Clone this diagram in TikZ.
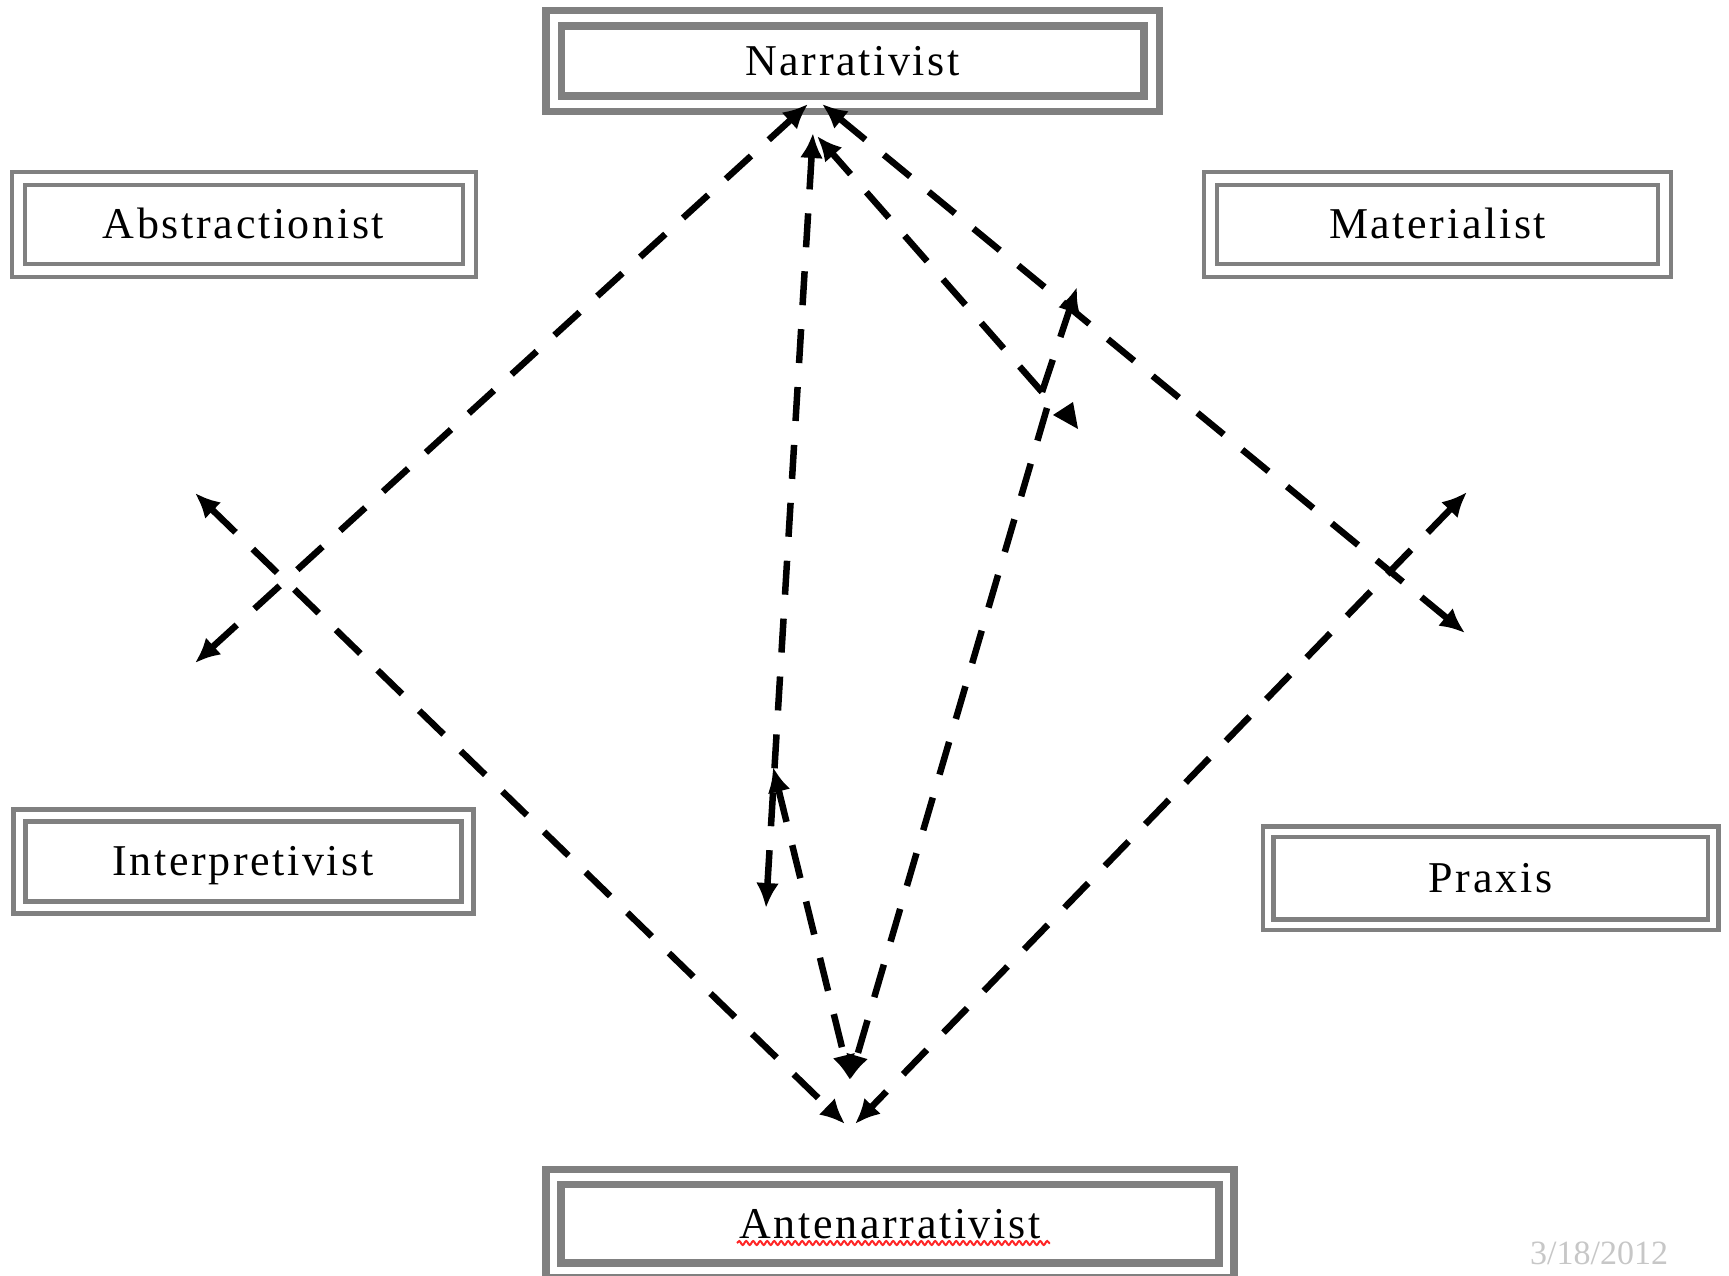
\documentclass[tikz,border=0pt]{standalone}
\usepackage{fontspec}
\setmainfont{Liberation Serif}
\usetikzlibrary{arrows.meta,decorations.pathmorphing}
\definecolor{boxgray}{RGB}{128,128,128}
\newcommand{\boxtextfont}{\fontsize{44}{50}\selectfont\addfontfeature{LetterSpace=6}}
\begin{document}
\begin{tikzpicture}[x=1pt,y=-1pt,
  box/.style={draw=boxgray, double=white, inner sep=0pt, text height=29pt, text depth=0pt, font=\boxtextfont},
  dline/.style={line width=6.5pt, dash pattern=on 34pt off 24pt, line cap=butt,
     arrows={-}, >={Latex[length=25pt,width=23pt]}}]
\clip (0,0) rectangle (1729,1276);
\fill[white] (0,0) rectangle (1729,1276);

% boxes
\node[box, line width=7.5pt, double distance=8pt, minimum width=598pt, minimum height=85.5pt] (narr) at (852.5,61.25) {Narrativist};
\node[box, line width=4pt, double distance=9pt, minimum width=451pt, minimum height=92pt] (abst) at (243.5,224.5) {Abstractionist};
\node[box, line width=4pt, double distance=9pt, minimum width=454pt, minimum height=92pt] (mate) at (1437.5,224.5) {Materialist};
\node[box, line width=5pt, double distance=7pt, minimum width=448pt, minimum height=92pt] (inter) at (243,861) {Interpretivist};
\node[box, line width=4.5pt, double distance=6pt, minimum width=445pt, minimum height=93pt] (prax) at (1490.5,878) {Praxis};
\node[box, line width=7.5pt, double distance=7.5pt, minimum width=673pt, minimum height=93.5pt] (ante) at (890,1223.75) {Antenarrativist};

% spell-check squiggle
\coordinate (sqA) at (737,1243);
\coordinate (sqB) at (1050,1243);
\draw[red!85!white, line width=2pt, decorate, decoration={snake, amplitude=2pt, segment length=7pt}] (sqA) -- (sqB);

% date
\node[anchor=base west, inner sep=0pt, text=black!22, font=\fontsize{34}{38}\selectfont] (date) at (1530,1264) {3/18/2012};

% connector end points
\coordinate (nApexL) at (808,104);
\coordinate (nApexR) at (822,104);
\coordinate (lxUL) at (195,493);
\coordinate (lxDL) at (195,663);
\coordinate (rxUR) at (1467,492);
\coordinate (rxDR) at (1465,633);
\coordinate (aApexL) at (845,1124);
\coordinate (aApexR) at (855,1124);
\coordinate (vTop) at (813,133);
\coordinate (vBot) at (766,908);
\coordinate (bTop) at (773,767);
\coordinate (bBot) at (850,1080);
\coordinate (cTop) at (817,136);
\coordinate (vVert) at (1042,392);
\coordinate (dTop) at (1077,287);
\coordinate (eTop) at (1047,408);

% diamond crossings
\draw[dline, <->] (lxDL) -- (nApexL);
\draw[dline, <->] (lxUL) -- (aApexL);
\draw[dline, <->] (rxDR) -- (nApexR);
\draw[dline, <->] (rxUR) -- (aApexR);

% middle lines
\draw[dline, <->] (vTop) -- (vBot);
\draw[dline, <->] (bTop) -- (bBot);
\draw[dline, ->] (vVert) -- (cTop);
\draw[dline, ->] (vVert) -- (dTop);
\draw[dline, ->] (eTop) -- (bBot);
\fill (1053,415) -- (1073,402) -- (1078,429) -- cycle;
\end{tikzpicture}
\end{document}
